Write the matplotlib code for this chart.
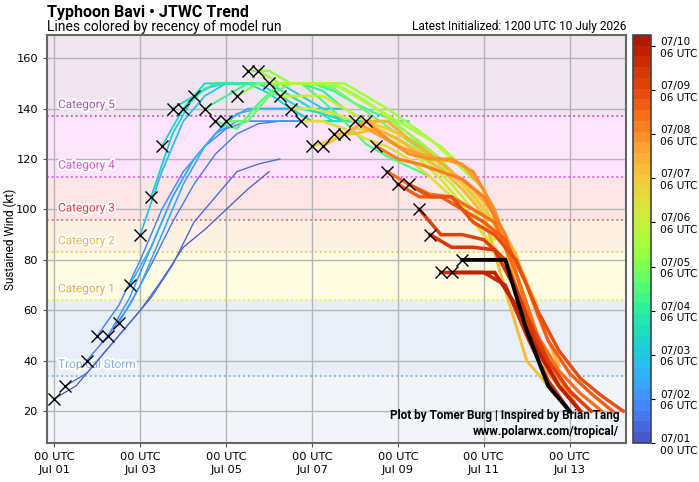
import numpy as np
import matplotlib
matplotlib.use('Agg')
import matplotlib.pyplot as plt
import matplotlib.dates as mdates
import matplotlib.colors as mcolors
import matplotlib.patheffects as pe

# model run init times (hours after 00 UTC 1 July) and initial intensity (kt)
init_hours = [0, 6, 18, 24, 30, 36, 42, 48, 54, 60, 66, 72, 78, 84, 90, 96, 102, 108, 114,
              120, 126, 132, 138, 144, 150, 156, 162, 168, 174, 180, 186, 192, 198, 204,
              210, 216, 222, 228]
init_vmax = [25, 30, 40, 50, 50, 55, 70, 90, 105, 125, 140, 140, 145, 140, 135, 135, 145, 155,
             155, 150, 145, 140, 135, 125, 125, 130, 130, 135, 135, 125, 115, 110, 110, 100,
             90, 75, 75, 80]

# forecast intensity every 12 h from init (tau 0, 12, 24, ...)
fcst_step = 12
fcst_vmax = [
    [25, 30, 40, 50, 60, 72, 85, 92, 100, 108, 115],
    [30, 35, 45, 55, 65, 78, 95, 105, 115, 118, 120],
    [40, 50, 62, 78, 95, 110, 122, 130, 134, 135, 135],
    [50, 62, 80, 100, 115, 125, 132, 135, 135, 135, 135],
    [50, 65, 85, 105, 120, 130, 135, 135, 135, 135, 135],
    [55, 70, 90, 110, 125, 135, 140, 140, 140, 135, 135],
    [70, 85, 105, 120, 130, 138, 140, 140, 140, 140, 140],
    [90, 115, 135, 145, 150, 150, 150, 145, 140, 138, 135],
    [105, 130, 145, 150, 150, 150, 150, 145, 140, 135, 135],
    [125, 140, 150, 150, 150, 146, 140, 135, 135, 135, 135],
    [140, 145, 150, 150, 150, 145, 140, 138, 135, 135, 135],
    [140, 148, 150, 150, 150, 145, 140, 135, 135, 135, 135],
    [145, 150, 150, 150, 150, 150, 147, 140, 135, 135, 135],
    [140, 145, 150, 150, 150, 150, 147, 142, 138, 135, 130],
    [135, 132, 142, 150, 150, 143, 135, 126, 121, 117, 113],
    [135, 135, 145, 150, 150, 148, 142, 136, 130, 124, 118],
    [145, 150, 150, 150, 150, 148, 143, 137, 130, 122, 112],
    [155, 155, 150, 150, 150, 145, 140, 133, 127, 120, 110],
    [155, 150, 150, 150, 150, 145, 140, 134, 128, 120, 112],
    [150, 150, 150, 150, 145, 140, 135, 130, 125, 117, 108],
    [145, 145, 145, 140, 135, 130, 125, 118, 110, 100, 88],
    [140, 140, 138, 135, 130, 126, 120, 112, 102, 90, 78],
    [135, 135, 132, 128, 125, 120, 113, 105, 95, 85, 75],
    [125, 128, 132, 132, 128, 123, 118, 110, 100, 87, 72],
    [125, 130, 135, 132, 128, 122, 115, 106, 95, 80, 62],
    [130, 130, 132, 128, 122, 116, 108, 98, 68, 40, 30],
    [130, 135, 135, 128, 122, 115, 108, 98, 82, 58, 38],
    [135, 130, 125, 122, 120, 118, 108, 85, 55, 35, 25],
    [135, 128, 122, 120, 120, 115, 100, 75, 50, 33, 20],
    [125, 120, 118, 115, 112, 105, 90, 60, 40, 28, 20],
    [115, 110, 106, 105, 100, 95, 75, 50, 36, 27, 20],
    [110, 105, 105, 100, 95, 88, 70, 48, 35, 27, 20],
    [110, 105, 105, 95, 90, 80, 60, 44, 33, 26, 20],
    [100, 90, 90, 88, 80, 58, 40, 28, 20],
    [90, 85, 85, 84, 68, 46, 30, 20],
    [75, 75, 75, 70, 50, 32, 20],
    [75, 75, 75, 62, 44, 30, 20],
    [80, 80, 80, 52, 30, 20],
]

cat_names = ['Tropical Storm', 'Category 1', 'Category 2', 'Category 3', 'Category 4', 'Category 5']
cat_thresh = [34, 64, 83, 96, 113, 137]
cat_line_colors = ['#7fb2e5', '#eeee44', '#f7c948', '#f06a6a', '#ee55ee', '#cc55cc']
cat_text_colors = ['#7fb2e5', '#f2a93b', '#f2b33d', '#e8393f', '#ee44ee', '#a856b8']
band_colors = ['#f1f5fa', '#e8eff8', '#fefde4', '#fdf1e4', '#fbe5e5', '#fde4fd', '#f0e4f0']

cbar_ticks = [0, 4, 8, 12, 16, 20, 24, 28, 32, 36]
cbar_labels = ['07/01\n00 UTC', '07/02\n06 UTC', '07/03\n06 UTC', '07/04\n06 UTC',
               '07/05\n06 UTC', '07/06\n06 UTC', '07/07\n06 UTC', '07/08\n06 UTC',
               '07/09\n06 UTC', '07/10\n06 UTC']

base = np.datetime64('2026-07-01T00:00')


def hrs(h):
    return base + np.array(h, dtype='int64').astype('timedelta64[h]')


nrun = len(init_hours)
cmap = mcolors.ListedColormap(plt.cm.turbo(np.linspace(0.1, 0.93, nrun)))
norm = mcolors.Normalize(vmin=0, vmax=nrun - 1)

fig = plt.figure(figsize=(6.99, 4.82), dpi=100)
ax = fig.add_axes([0.0672, 0.081, 0.8284, 0.8465])
cax = fig.add_axes([0.9056, 0.081, 0.0257, 0.8465])

ylo, yhi = 7.4, 169.2
edges = [ylo] + cat_thresh + [yhi]
for i in range(len(band_colors)):
    ax.axhspan(edges[i], edges[i + 1], color=band_colors[i], zorder=0.1, lw=0)
for name, v, lc, tc in zip(cat_names, cat_thresh, cat_line_colors, cat_text_colors):
    ax.axhline(v, color=lc, ls=':', lw=1.3, zorder=0.6)
    ax.text(hrs(2), v + 2.0, name, color=tc, fontsize=8.5, family='Roboto', va='bottom',
            ha='left', zorder=1.5,
            path_effects=[pe.withStroke(linewidth=3, foreground='white')])

for i in range(nrun):
    vals = fcst_vmax[i]
    taus = [init_hours[i] + fcst_step * k for k in range(len(vals))]
    if i == nrun - 1:
        col = 'black'
        lw = 2.8
    else:
        col = cmap(norm(i))
        lw = 0.9 + 1.8 * i / (nrun - 1)
    ax.plot(hrs(taus), vals, color=col, lw=lw, zorder=2 + i * 0.01, solid_joinstyle='miter')

ax.plot(hrs(init_hours), init_vmax, ls='none', marker='x', color='black', ms=9, mew=1.0,
        zorder=10)

ax.set_ylim(ylo, yhi)
ax.set_xlim(base - np.timedelta64(252, 'm'), base + np.timedelta64(19170, 'm'))
ax.set_yticks([20, 40, 60, 80, 100, 120, 140, 160])
ax.xaxis.set_major_locator(mdates.DayLocator(interval=2))
ax.xaxis.set_major_formatter(mdates.DateFormatter('%H UTC\n%b %d'))
ax.grid(True, color='#b5b5b5', lw=1.0)
ax.set_axisbelow(True)
ax.tick_params(labelsize=8.2, length=3, color='#555555')
for lab in ax.get_xticklabels():
    lab.set_linespacing(1.4)
for s in ax.spines.values():
    s.set_color('#666666')
    s.set_linewidth(1.5)
ax.set_ylabel('Sustained Wind (kt)', fontsize=8.5, family='Roboto')
ax.yaxis.set_label_coords(-0.052, 0.5)

sm = plt.cm.ScalarMappable(cmap=cmap, norm=norm)
cb = fig.colorbar(sm, cax=cax)
cb.set_ticks(cbar_ticks)
cb.set_ticklabels(cbar_labels)
cb.ax.tick_params(labelsize=7.6, length=3)
cb.outline.set_color('#444444')
cb.outline.set_linewidth(1.2)

ax.text(0.988, 0.012, 'Plot by Tomer Burg | Inspired by Brian Tang\nwww.polarwx.com/tropical/',
        transform=ax.transAxes, ha='right', va='bottom', fontsize=8.5, family='Roboto',
        fontweight='bold', linespacing=1.35, zorder=20)

fig.text(0.0672, 0.975, 'Typhoon Bavi \u2022 JTWC Trend', fontsize=11.5, family='Roboto',
         fontweight='bold', ha='left', va='center')
fig.text(0.0672, 0.944, 'Lines colored by recency of model run', fontsize=10, family='Roboto',
         ha='left', va='center')
fig.text(0.8956, 0.944, 'Latest Initialized: 1200 UTC 10 July 2026', fontsize=8.6,
         family='Roboto', ha='right', va='center')

fig.savefig('out.png', dpi=100)
